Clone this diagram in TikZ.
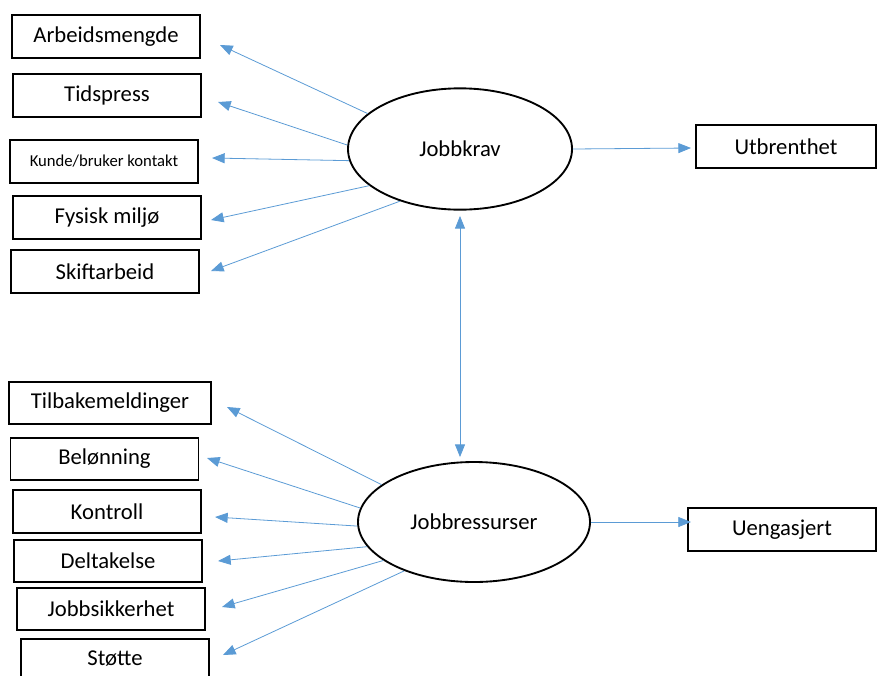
\documentclass[tikz,border=0pt]{standalone}
\usepackage{fontspec}
\setmainfont{Carlito}
\usetikzlibrary{arrows.meta}
\usetikzlibrary{shapes.geometric}
\definecolor{linkblue}{RGB}{91,155,213}

\begin{document}
\begin{tikzpicture}[x=0.75pt, y=-0.75pt,
    >={Triangle[length=9.5pt, width=7.5pt]},
    box/.style={draw, line width=1.4pt, minimum width=141pt, minimum height=32pt, inner sep=0pt, font=\fontsize{17}{19}\selectfont},
    blob/.style={draw, ellipse, line width=1.4pt, inner sep=0pt, font=\fontsize{17}{19}\selectfont},
    link/.style={->, line width=0.6pt, linkblue}]
          \useasboundingbox (0,0) rectangle (877,675);
          \clip (0,0) rectangle (877,675);

          % job demands
          \node [blob, minimum width=168pt, minimum height=91pt] (krav) at (460,149) {Jobbkrav};
          \node [box] (arb) at (106,36.5) {Arbeidsmengde};
          \node [box] (tid) at (107,95.5) {Tidspress};
          \node [box, font=\fontsize{12.5}{14}\selectfont] (kun) at (104,161.5) {Kunde/bruker kontakt};
          \node [box] (fys) at (107,217.5) {Fysisk miljø};
          \node [box] (ski) at (105,271.5) {Skiftarbeid};
          \node [box, minimum width=135pt] (utb) at (786,146.5) {Utbrenthet};

          \coordinate (tArb) at (220,45);
          \coordinate (tTid) at (218,102);
          \coordinate (tKun) at (212,158);
          \coordinate (tFys) at (211,220);
          \coordinate (tSki) at (211,271);
          \coordinate (tUtb) at (691,148);

          \draw [link] (krav.159) -- (tArb);
          \draw [link] (krav.178) -- (tTid);
          \draw [link] (krav.186) -- (tKun);
          \draw [link] (krav.202) -- (tFys);
          \draw [link] (krav.221) -- (tSki);
          \draw [link] (krav.east) -- (tUtb);

          % job resources
          \node [blob, minimum width=174pt, minimum height=90pt] (res) at (474,522) {Jobbressurser};
          \node [box, minimum width=151pt] (til) at (110,403) {Tilbakemeldinger};
          \node [box] (bel) at (104.5,459) {Belønning};
          \node [box] (kon) at (107,511.5) {Kontroll};
          \node [box] (del) at (108,561) {Deltakelse};
          \node [box] (sik) at (111,609) {Jobbsikkerhet};
          \node [box, minimum height=35pt, text depth=6pt] (sto) at (115,662) {Støtte};
          \node [box] (ueng) at (782,529.5) {Uengasjert};

          \coordinate (tTil) at (227,407);
          \coordinate (tBel) at (207,458);
          \coordinate (tKon) at (215,517);
          \coordinate (tDel) at (218,561);
          \coordinate (tSik) at (222,607);
          \coordinate (tSto) at (223,655);
          \coordinate (tUen) at (691,522);

          \draw [link] (res.158) -- (tTil);
          \draw [link] (res.173) -- (tBel);
          \draw [link] (res.182) -- (tKon);
          \draw [link] (res.193) -- (tDel);
          \draw [link] (res.203) -- (tSik);
          \draw [link] (res.215) -- (tSto);
          \draw [link] (res.east) -- (tUen);

          \draw [<->, line width=0.6pt, linkblue, shorten <=4pt, shorten >=3pt] (krav.south) -- (krav.south |- res.north);
        \end{tikzpicture}
\end{document}
